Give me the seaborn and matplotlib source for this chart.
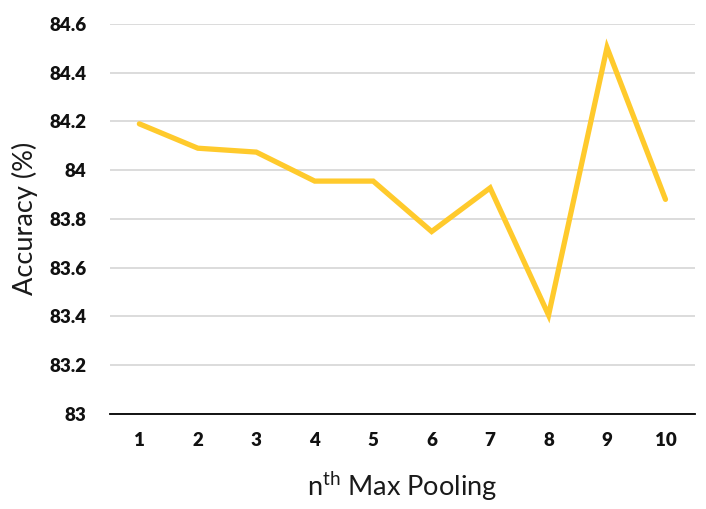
import numpy as np
import pandas as pd
import matplotlib
matplotlib.use('Agg')
import matplotlib.pyplot as plt
import seaborn as sns

# data
pooling_index = [1, 2, 3, 4, 5, 6, 7, 8, 9, 10]
accuracy = [84.19, 84.09, 84.074, 83.955, 83.955, 83.748, 83.927, 83.405, 84.503, 83.88]
y_ticks = [83, 83.2, 83.4, 83.6, 83.8, 84, 84.2, 84.4, 84.6]
y_tick_labels = ["83", "83.2", "83.4", "83.6", "83.8", "84", "84.2", "84.4", "84.6"]

sns.set_theme(style="white")
plt.rcParams['font.family'] = ['Lato', 'DejaVu Sans']
plt.rcParams['mathtext.fontset'] = 'custom'
plt.rcParams['mathtext.rm'] = 'Lato'

df = pd.DataFrame({"pool": pooling_index, "acc": accuracy})

fig = plt.figure(figsize=(7.06, 5.09), dpi=100)
ax = fig.add_axes([0.156, 0.187, 0.828, 0.766])

sns.lineplot(data=df, x="pool", y="acc", ax=ax, color="#FFCA2C",
             linewidth=3.8, solid_joinstyle="miter", solid_capstyle="round")

ax.set_xlim(0.5, 10.5)
ax.set_ylim(83, 84.6)
ax.set_yticks(y_ticks)
ax.set_yticklabels(y_tick_labels)
ax.set_xticks(pooling_index)
ax.set_xticklabels([str(i) for i in pooling_index])

for lab in ax.get_xticklabels() + ax.get_yticklabels():
    lab.set_fontweight("heavy")
    lab.set_fontsize(13.5)
    lab.set_color("#111111")

ax.yaxis.grid(True, color="#D9D9D9", linewidth=1.3)
ax.xaxis.grid(False)
ax.set_axisbelow(True)
for side in ["left", "right", "top"]:
    ax.spines[side].set_visible(False)
ax.spines["bottom"].set_color("#000000")
ax.spines["bottom"].set_linewidth(1.3)
ax.spines["bottom"].set_zorder(1)
ax.tick_params(axis="both", length=0)
ax.tick_params(axis="x", pad=13)
ax.tick_params(axis="y", pad=17)

ax.set_xlabel(r"n$^{\mathrm{th}}$ Max Pooling", fontsize=19.5, color="#1a1a1a", labelpad=15)
ax.set_ylabel("Accuracy (%)", fontsize=19.5, color="#1a1a1a", labelpad=8)

fig.savefig("out.png", dpi=100)
plt.close(fig)
